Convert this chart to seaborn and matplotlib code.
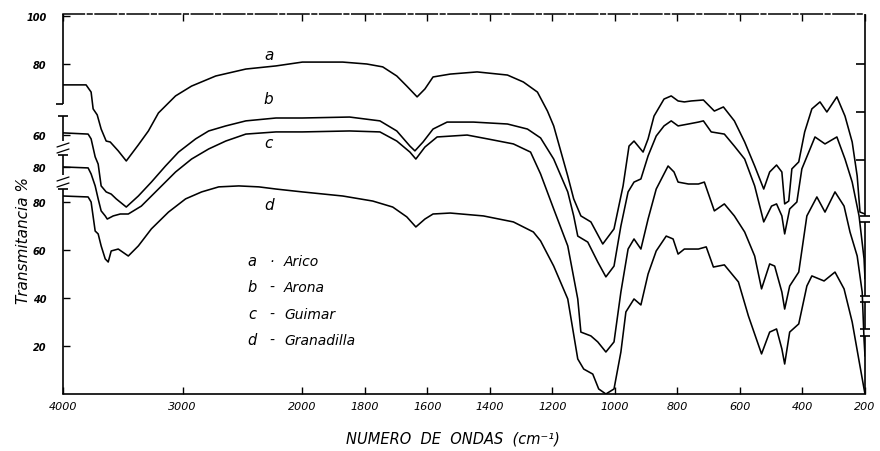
import numpy as np
import pandas as pd
import matplotlib
matplotlib.use("Agg")
import matplotlib.pyplot as plt
from matplotlib.ticker import NullLocator
import seaborn as sns

sns.set_theme(style="white")
plt.rcParams['font.family'] = ['DejaVu Sans']
plt.rcParams['text.color'] = 'black'
plt.rcParams['axes.labelcolor'] = 'black'
plt.rcParams['xtick.color'] = 'black'
plt.rcParams['ytick.color'] = 'black'

# ---------------- data ----------------
curve_ids = ['a', 'b', 'c', 'd']
curve_names = ['Arico', 'Arona', 'Guimar', 'Granadilla']
curve_seps = ['·', '-', '-', '-']

wn_a = [4000, 3807, 3765, 3748, 3714, 3681, 3639, 3605, 3538, 3471, 3370, 3286, 3202, 3059, 2925, 2723, 2471, 2219, 2000, 1871,
        1794, 1743, 1698, 1666, 1633, 1608, 1582, 1527, 1441, 1344, 1293, 1248, 1216, 1196, 1151, 1132, 1109, 1077, 1039, 1003,
        974, 955, 939, 910, 894, 875, 843, 820, 798, 778, 756, 717, 682, 653, 618, 585, 553, 524, 505, 483,
        466, 457, 444, 434, 412, 393, 370, 344, 322, 290, 264, 241, 225, 216, 200]
t_a = [71.3, 71.3, 68.3, 61.3, 58.8, 52.9, 47.9, 47.5, 43.8, 39.6, 46.3, 52.1, 59.6, 66.7, 70.8, 75.0, 77.9, 79.2, 80.8, 80.8,
       80.0, 78.8, 75.0, 70.8, 66.3, 69.6, 74.6, 75.8, 76.7, 75.4, 72.5, 68.3, 60.4, 54.2, 33.3, 23.8, 16.7, 14.2, 5.0, 11.3,
       29.2, 45.8, 47.9, 43.3, 48.8, 58.3, 65.4, 66.7, 64.6, 64.2, 64.6, 65.0, 60.4, 62.1, 56.3, 47.5, 37.5, 27.9, 35.0, 37.9,
       35.0, 21.7, 22.9, 36.3, 39.2, 51.7, 61.3, 64.2, 60.0, 66.3, 58.3, 47.5, 33.3, 18.3, 17.5]

wn_b = [4000, 3790, 3765, 3731, 3706, 3681, 3639, 3597, 3555, 3471, 3370, 3261, 3143, 3034, 2891, 2782, 2639, 2471, 2219, 2000,
        1849, 1752, 1698, 1656, 1640, 1614, 1582, 1537, 1453, 1344, 1280, 1238, 1196, 1151, 1132, 1119, 1087, 1055, 1029, 1003,
        981, 958, 939, 917, 894, 868, 843, 820, 798, 765, 733, 717, 692, 650, 618, 585, 553, 524, 499, 483,
        466, 457, 441, 418, 402, 360, 328, 290, 264, 241, 219, 203, 200]
t_b = [60.8, 60.3, 58.3, 50.8, 47.8, 38.7, 36.2, 35.3, 33.3, 29.9, 34.5, 40.3, 47.0, 52.8, 58.3, 61.6, 63.7, 65.8, 67.0, 67.0,
       67.4, 65.8, 61.6, 55.3, 53.3, 57.0, 62.4, 65.3, 65.3, 64.5, 62.4, 58.7, 49.9, 36.2, 26.2, 17.8, 15.3, 7.0, 0.8, 5.3,
       22.0, 36.2, 40.3, 41.6, 51.2, 59.5, 63.7, 65.8, 63.7, 64.5, 65.3, 65.8, 61.2, 60.3, 55.3, 49.9, 38.7, 23.7, 30.3, 31.2,
       26.2, 18.7, 29.1, 32.0, 45.8, 59.1, 56.2, 59.1, 49.9, 40.3, 26.2, 8.3, 0.0]

wn_c = [4000, 3790, 3765, 3731, 3706, 3681, 3647, 3630, 3580, 3521, 3454, 3345, 3202, 3059, 2925, 2782, 2639, 2471, 2219, 2000,
        1849, 1752, 1698, 1656, 1637, 1608, 1569, 1473, 1408, 1325, 1270, 1238, 1196, 1151, 1119, 1109, 1077, 1055, 1029, 1003,
        981, 958, 939, 917, 894, 868, 830, 811, 798, 765, 733, 714, 682, 650, 618, 585, 553, 531, 505, 489,
        466, 457, 441, 412, 386, 354, 328, 296, 267, 248, 225, 209, 203, 200]
t_c = [80.1, 79.7, 77.2, 72.2, 66.8, 61.8, 59.7, 58.4, 59.7, 60.5, 60.5, 63.8, 70.9, 78.0, 83.4, 87.6, 90.9, 93.8, 94.7, 94.7,
       95.1, 94.7, 90.9, 86.3, 83.4, 88.4, 92.6, 93.4, 91.8, 89.7, 86.3, 77.2, 62.6, 47.2, 25.1, 11.3, 9.7, 7.2, 3.0, 7.2,
       28.0, 45.9, 50.1, 45.9, 58.4, 70.9, 80.5, 78.0, 73.8, 73.0, 73.0, 73.8, 61.8, 64.7, 59.7, 53.0, 43.0, 29.3, 39.7, 38.8,
       28.0, 20.9, 30.5, 36.3, 59.7, 67.6, 61.3, 69.7, 63.8, 53.0, 43.0, 28.0, 8.0, 1.3]

wn_d = [4000, 3790, 3765, 3731, 3706, 3681, 3647, 3622, 3597, 3538, 3454, 3370, 3261, 3118, 2975, 2841, 2698, 2530, 2362, 2219,
        2000, 1871, 1775, 1711, 1666, 1637, 1608, 1582, 1527, 1421, 1325, 1261, 1238, 1196, 1151, 1119, 1100, 1071, 1052, 1029,
        1003, 981, 965, 939, 917, 894, 868, 836, 814, 798, 778, 733, 708, 685, 650, 605, 573, 531, 505, 483,
        466, 457, 441, 412, 386, 370, 331, 296, 267, 241, 219, 203, 200]
t_d = [82.5, 82.1, 80.0, 67.9, 66.7, 61.7, 56.3, 55.0, 59.6, 60.4, 57.5, 61.7, 68.8, 75.8, 81.3, 84.2, 86.3, 86.7, 86.3, 85.4,
       84.2, 82.5, 80.4, 77.9, 73.8, 69.6, 72.9, 75.0, 75.4, 74.2, 71.7, 67.5, 63.8, 53.3, 39.6, 14.6, 10.4, 8.3, 2.1, 0.0,
       2.1, 17.5, 34.2, 39.6, 37.1, 50.0, 59.6, 65.8, 64.6, 58.3, 60.4, 60.4, 61.3, 52.9, 53.8, 46.7, 32.5, 16.7, 25.8, 27.1,
       18.8, 12.5, 25.8, 29.2, 45.0, 49.2, 47.1, 50.8, 43.8, 30.0, 13.8, 2.1, 0.0]

# vertical offsets of the stacked traces (each trace has its own % scale)
offsets = {'a': 57.5, 'b': 48.0, 'c': 14.5, 'd': 0.0}

x_ticks = [4000, 3000, 2000, 1800, 1600, 1400, 1200, 1000, 800, 600, 400, 200]
# left-axis tick labels: (trace, transmittance value)
y_tick_defs = [('a', 100), ('a', 80), ('b', 60), ('c', 80), ('d', 80), ('d', 60), ('d', 40), ('d', 20)]
right_tick_defs = [('a', 80), ('a', 60), ('a', 40)]

# ---------------- build table ----------------
series = {'a': (wn_a, t_a), 'b': (wn_b, t_b), 'c': (wn_c, t_c), 'd': (wn_d, t_d)}
frames = []
for cid, (w, t) in series.items():
    frames.append(pd.DataFrame({'wn': w, 'T': t, 'curve': cid}))
df = pd.concat(frames, ignore_index=True)
df['shown'] = df['T'] + df['curve'].map(offsets)

# ---------------- figure ----------------
W, H = 880, 452
fig, ax = plt.subplots(figsize=(W / 100, H / 100), dpi=100)
L, R, TOP, BOT = 63, 865, 15, 395
fig.subplots_adjust(left=L / W, right=R / W, bottom=1 - BOT / H, top=1 - TOP / H)

sns.lineplot(data=df, x='wn', y='shown', units='curve', estimator=None, sort=False,
             color='black', linewidth=1.15, ax=ax, legend=False)

# grating-change abscissa: 200-2000 expanded, 2000-4000 compressed (increasing transform)
def fwd(w):
    w = np.asarray(w, dtype=float)
    return np.where(w <= 2000, (w - 200) * 0.311, 560 + (w - 2000) * 0.119)

def inv(f):
    f = np.asarray(f, dtype=float)
    return np.where(f <= 560, 200 + f / 0.311, 2000 + (f - 560) / 0.119)

ax.set_xscale('function', functions=(fwd, inv))
ax.set_xlim(4000, 200)
ymax = (BOT - TOP) / 2.4
ax.set_ylim(0, ymax)

ax.set_xticks(x_ticks)
ax.set_xticklabels([str(t) for t in x_ticks], fontsize=8, fontstyle='italic')
ax.xaxis.set_minor_locator(NullLocator())
ax.tick_params(axis='x', direction='in', top=True, bottom=True, length=5, width=1, pad=5, colors='black')

ytick_pos = [offsets[c] + v for c, v in y_tick_defs]
ax.set_yticks(ytick_pos)
ax.set_yticklabels([str(v) for c, v in y_tick_defs], fontsize=7, fontstyle='italic', fontweight='bold')
ax.yaxis.set_minor_locator(NullLocator())
ax.tick_params(axis='y', direction='in', left=True, right=False, length=5, width=1, pad=12, colors='black')

ax.set_xlabel('NUMERO  DE  ONDAS  (cm⁻¹)', fontsize=10.5, fontstyle='italic', color='black')
ax.xaxis.set_label_coords((453 - L) / (R - L), (BOT - 432) / (BOT - TOP))
ax.set_ylabel('Transmitancia %', fontsize=11, fontstyle='italic', color='black')
ax.yaxis.set_label_coords((31 - L) / (R - L), (BOT - 240) / (BOT - TOP))

# spines: top dashed like the scan, sides drawn with axis breaks
for s in ['left', 'right']:
    ax.spines[s].set_visible(False)
ax.spines['top'].set_linestyle((0, (14, 2, 3, 2)))
ax.spines['top'].set_linewidth(1.1)
ax.spines['bottom'].set_linewidth(1.2)
ax.spines['top'].set_color('black')
ax.spines['bottom'].set_color('black')

ytr = ax.get_yaxis_transform()
pw = R - L
def pv(py):
    return (BOT - py) / 2.4
def dx(p):
    return p / pw

kw = dict(transform=ytr, color='black', lw=1.2, clip_on=False, solid_capstyle='butt')
for y0, y1 in [(15, 105), (117, 142), (156, 176), (190, 395)]:
    ax.plot([0, 0], [pv(y0), pv(y1)], **kw)
ax.plot([dx(-7), 0], [pv(105), pv(105)], **kw)
for yc in [117, 156, 190]:
    ax.plot([dx(-5), dx(5)], [pv(yc), pv(yc)], **kw)
for ys in [146, 152, 180, 186]:
    ax.plot([dx(-6), dx(6)], [pv(ys + 2), pv(ys - 2)], transform=ytr, color='black', lw=0.9, clip_on=False)

for y0, y1 in [(15, 217), (223, 297), (303, 330), (337, 395)]:
    ax.plot([1, 1], [pv(y0), pv(y1)], **kw)
for yc in [217, 223, 297, 303, 330, 337]:
    ax.plot([1 - dx(5), 1 + dx(5)], [pv(yc), pv(yc)], **kw)
for c, v in right_tick_defs:
    yv = offsets[c] + v
    ax.plot([1 - dx(9), 1], [yv, yv], **kw)

# trace letters
letter_wn = 2280
letter_pix = {'a': 56, 'b': 99, 'c': 144, 'd': 206}
for cid in curve_ids:
    ax.text(letter_wn, pv(letter_pix[cid]), cid, fontsize=11, fontstyle='italic',
            ha='center', va='center', color='black')

# key
key_pix = [262, 288, 315, 341]
for cid, name, sep, py in zip(curve_ids, curve_names, curve_seps, key_pix):
    ax.text(2421, pv(py), cid, fontsize=10.5, fontstyle='italic', ha='center', va='center', color='black')
    ax.text(2253, pv(py), sep, fontsize=10, fontstyle='italic', ha='center', va='center', color='black')
    ax.text(2152, pv(py), name, fontsize=10, fontstyle='italic', ha='left', va='center', color='black')

fig.savefig('out.png', dpi=100, facecolor='white')
